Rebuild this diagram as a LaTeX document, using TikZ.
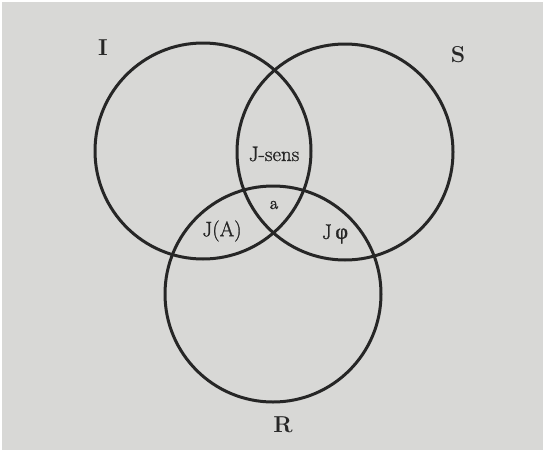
\documentclass[tikz,border=0pt]{standalone}
\usepackage{fontspec}
\newfontfamily\lblfont{Latin Modern Roman}[FakeBold=1.2]
\newfontfamily\afont{Latin Modern Roman}[FakeBold=2.2]
\newfontfamily\grk{Liberation Serif}[FakeBold=1.2]
\begin{document}
\begin{tikzpicture}[x=1pt,y=-1pt,
  set/.style={circle,draw=ink,line width=3pt,minimum size=216pt,inner sep=0pt},
  setname/.style={text=ink,font=\fontsize{23}{23}\selectfont\bfseries,inner sep=0pt},
  region/.style={text=ink,font=\lblfont\fontsize{21}{21}\selectfont,inner sep=0pt},
  small/.style={text=ink,font=\afont\fontsize{18}{18}\selectfont,inner sep=0pt}]
\definecolor{paper}{RGB}{216,216,214}
\definecolor{ink}{RGB}{38,38,38}
\fill[white] (0,0) rectangle (543,450);
\fill[paper] (2,2) rectangle (543,450);
\useasboundingbox (0,0) rectangle (543,450);
\node[set] (cI) at (203,151) {};
\node[set] (cS) at (345,152) {};
\node[set] (cR) at (273,294) {};
\node[setname] (lI) at (103,48) {I};
\node[setname] (lS) at (458,55) {S};
\node[setname] (lR) at (283,425) {R};
\node[region] (jsens) at (274,154) {J-sens};
\node[small] (la) at (274,205) {a};
\node[region] (ja) at (222,231) {J(A)};
\node[region] (jphi) at (335,234) {J\,{\grk\fontsize{22}{22}\selectfont φ}};
\end{tikzpicture}
\end{document}
